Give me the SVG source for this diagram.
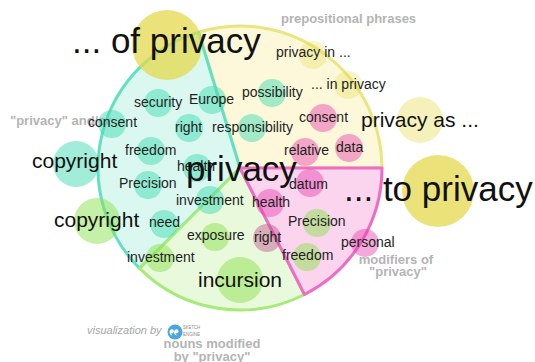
<svg xmlns="http://www.w3.org/2000/svg" width="535" height="362" viewBox="0 0 535 362">
<style>
text { font-family: "Liberation Sans", Arial, sans-serif; }
.w { font-size: 14px; fill: #1e1e1e; }
.mid { font-size: 21px; fill: #111; }
.big { font-size: 35px; fill: #111; }
.lab { font-size: 13px; font-weight: bold; fill: #b4b4b4; }
.ct { fill: #44dcb4; fill-opacity: .5; }
.cg { fill: #8ce150; fill-opacity: .5; }
.cp { fill: #e440ae; fill-opacity: .45; }
.cy { fill: #e4da4c; }
.sec { stroke-width: 3; stroke-linejoin: round; }
</style>
<rect width="535" height="362" fill="#fff"/>

<g id="sector-prepositional">
  <path class="sec" d="M240,168 L198.5,32.2 A142,142 0 0 1 382,168 Z" fill="#fdf8d9" stroke="#ece47c"/>
  <text class="lab" x="281" y="23">prepositional phrases</text>
</g>
<g id="sector-andor">
  <path class="sec" d="M240,168 L139.6,268.4 A142,142 0 0 1 198.5,32.2 Z" fill="#daf8f0" stroke="#62e0c4"/>
  <text class="lab" x="10" y="125">"privacy" and/or</text>
</g>
<g id="sector-nouns">
  <path class="sec" d="M240,168 L304.5,294.5 A142,142 0 0 1 139.6,268.4 Z" fill="#e8f9dc" stroke="#a6ea7c"/>
  <text class="lab" x="212" y="348" text-anchor="middle">nouns modified</text>
  <text class="lab" x="212" y="361" text-anchor="middle">by "privacy"</text>
</g>
<g id="sector-modifiers">
  <path class="sec" d="M240,168 L382,168 A142,142 0 0 1 304.5,294.5 Z" fill="#fbd4ee" stroke="#ee6cc4"/>
  <text class="lab" x="396" y="263.5" text-anchor="middle">modifiers of</text>
  <text class="lab" x="398" y="276" text-anchor="middle">"privacy"</text>
</g>

<g id="n-of-privacy"><circle class="cy" cx="167" cy="45" r="35" fill-opacity=".75"/><text class="big" x="72" y="53">... of privacy</text></g>
<g id="n-to-privacy"><circle class="cy" cx="438" cy="191" r="36" fill-opacity=".75"/><text class="big" x="344" y="201">... to privacy</text></g>
<g id="n-privacy-as"><circle class="cy" cx="420" cy="120" r="23" fill-opacity=".38"/><text class="mid" x="361" y="127">privacy as ...</text></g>
<g id="n-privacy-in"><circle class="cy" cx="313" cy="55" r="14" fill-opacity=".3"/><text class="w" x="276" y="57">privacy in ...</text></g>
<g id="n-in-privacy"><circle class="cy" cx="348" cy="85" r="14" fill-opacity=".3"/><text class="w" x="311" y="89">... in privacy</text></g>

<g id="n-security"><circle class="ct" cx="158" cy="103" r="14"/><text class="w" x="134" y="107">security</text></g>
<g id="n-europe"><circle class="ct" cx="212" cy="100" r="14"/><text class="w" x="189" y="104">Europe</text></g>
<g id="n-consent-andor"><circle class="ct" cx="112" cy="124" r="14"/><text class="w" x="88" y="127">consent</text></g>
<g id="n-right-andor"><circle class="ct" cx="189" cy="128" r="14"/><text class="w" x="175" y="132">right</text></g>
<g id="n-freedom-andor"><circle class="ct" cx="151" cy="151" r="14"/><text class="w" x="125" y="155">freedom</text></g>
<g id="n-health-andor"><circle class="ct" cx="197" cy="168" r="14"/><text class="w" x="177" y="171">health</text></g>
<g id="n-precision-andor"><circle class="ct" cx="148" cy="185" r="14"/><text class="w" x="119" y="188">Precision</text></g>
<g id="n-investment-andor"><circle class="ct" cx="210" cy="200" r="14"/><text class="w" x="176" y="205">investment</text></g>
<g id="n-need"><circle class="ct" cx="164" cy="224" r="14"/><text class="w" x="149" y="227">need</text></g>
<g id="n-copyright-andor"><circle class="ct" cx="76" cy="164" r="23"/><text class="mid" x="32" y="168">copyright</text></g>
<g id="n-possibility"><circle class="ct" cx="272" cy="93" r="14"/><text class="w" x="242" y="97">possibility</text></g>
<g id="n-responsibility"><circle class="ct" cx="252" cy="128" r="14"/><text class="w" x="212" y="132">responsibility</text></g>

<g id="n-consent-mod"><circle class="cp" cx="323" cy="118" r="14" fill-opacity=".5"/><text class="w" x="299" y="122">consent</text></g>
<g id="n-relative"><circle class="cp" cx="305" cy="152" r="14"/><text class="w" x="284" y="155">relative</text></g>
<g id="n-data"><circle class="cp" cx="349" cy="148" r="14" fill-opacity=".4"/><text class="w" x="336" y="152">data</text></g>
<g id="n-datum"><circle class="cp" cx="310" cy="183" r="14" fill-opacity=".4"/><text class="w" x="289" y="189">datum</text></g>
<g id="n-health-mod"><circle class="cp" cx="270" cy="203" r="14" fill-opacity=".6"/><text class="w" x="252" y="207">health</text></g>
<g id="n-right-mod"><circle cx="267" cy="238" r="14" fill="#c2508e" fill-opacity=".45"/><text class="w" x="254" y="242">right</text></g>
<g id="n-personal"><circle class="cp" cx="365" cy="243" r="14" fill-opacity=".42"/><text class="w" x="341" y="247">personal</text></g>

<g id="n-investment-nouns"><circle class="cg" cx="160" cy="258" r="14"/><text class="w" x="127" y="262">investment</text></g>
<g id="n-exposure"><circle class="cg" cx="215" cy="237" r="14"/><text class="w" x="187" y="240">exposure</text></g>
<g id="n-incursion"><circle class="cg" cx="240" cy="280" r="23"/><text class="mid" x="198" y="287">incursion</text></g>
<g id="n-copyright-nouns"><circle class="cg" cx="97" cy="221" r="23"/><text class="mid" x="54" y="227">copyright</text></g>
<g id="n-precision-nouns"><circle class="cg" cx="317" cy="223" r="14" fill-opacity=".55"/><text class="w" x="288" y="226">Precision</text></g>
<g id="n-freedom-nouns"><circle class="cg" cx="307" cy="257" r="14" fill-opacity=".55"/><text class="w" x="282" y="260">freedom</text></g>

<g id="n-privacy"><text class="big" x="186" y="181">privacy</text></g>

<g id="credit">
  <text x="87" y="334" font-size="11" font-style="italic" fill="#a6a6a6">visualization by</text>
  <circle cx="175" cy="332" r="7.5" fill="#4aa6de"/>
  <path d="M171,329.5 a2,2 0 1 1 0,3.5 q0.5,2 2,2.5 q-3.2,0 -3.5,-3.2 q0,-2.2 1.5,-2.8 Z M175.5,329.5 a2,2 0 1 1 0,3.5 q0.5,2 2,2.5 q-3.2,0 -3.5,-3.2 q0,-2.2 1.5,-2.8 Z" fill="#fff"/>
  <text x="183" y="329" font-size="6" fill="#8a8a8a" textLength="17" lengthAdjust="spacingAndGlyphs">SKETCH</text>
  <text x="183" y="336" font-size="6" fill="#8a8a8a" textLength="17" lengthAdjust="spacingAndGlyphs">ENGINE</text>
</g>
</svg>
